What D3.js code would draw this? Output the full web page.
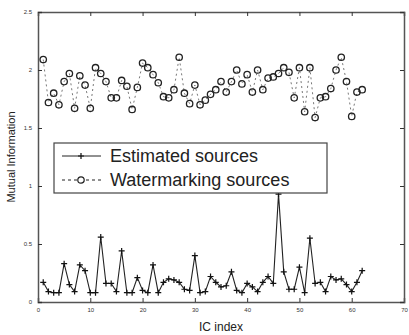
<!DOCTYPE html>
<html>
<head>
<meta charset="utf-8">
<script src="https://cdn.jsdelivr.net/npm/d3@7"></script>
<style>
body { margin: 0; background: #fff; }
svg { display: block; font-family: "Liberation Sans", Arial, sans-serif; }
</style>
</head>
<body>
<script>
var width = 409;
var height = 335;

// estimated sources (solid, +)
var estimated = [0.17, 0.09, 0.08, 0.08, 0.33, 0.15, 0.09, 0.32, 0.27, 0.08,
                 0.08, 0.56, 0.16, 0.16, 0.09, 0.44, 0.08, 0.08, 0.21, 0.10,
                 0.08, 0.32, 0.08, 0.17, 0.20, 0.19, 0.17, 0.11, 0.10, 0.40,
                 0.08, 0.09, 0.22, 0.17, 0.13, 0.14, 0.26, 0.10, 0.08, 0.16,
                 0.13, 0.09, 0.17, 0.22, 0.16, 0.93, 0.26, 0.11, 0.11, 0.30,
                 0.08, 0.55, 0.16, 0.17, 0.09, 0.22, 0.19, 0.20, 0.15, 0.09,
                 0.17, 0.27];
// watermarking sources (dashed, o)
var watermarking = [2.09, 1.72, 1.80, 1.70, 1.90, 1.97, 1.67, 1.95, 1.87, 1.67,
                    2.02, 1.97, 1.90, 1.76, 1.76, 1.91, 1.86, 1.66, 1.85, 2.06,
                    2.02, 1.96, 1.89, 1.77, 1.76, 1.83, 2.11, 1.80, 1.71, 1.87,
                    1.70, 1.74, 1.79, 1.83, 1.90, 1.81, 1.90, 2.00, 1.88, 1.96,
                    1.81, 2.00, 1.83, 1.93, 1.94, 1.97, 2.02, 1.98, 1.76, 2.02,
                    1.64, 2.02, 1.59, 1.76, 1.77, 1.84, 2.00, 2.11, 1.90, 1.60,
                    1.81, 1.83];
var xTicks = [0, 10, 20, 30, 40, 50, 60, 70];
var yTicks = [0, 0.5, 1, 1.5, 2, 2.5];
var legendLabels = ["Estimated sources", "Watermarking sources"];

var margin = {left: 38, right: 5, top: 12, bottom: 33};
var x = d3.scaleLinear().domain([0, 70]).range([margin.left, width - margin.right]);
var y = d3.scaleLinear().domain([0, 2.5]).range([height - margin.bottom, margin.top]);

var svg = d3.select("body")
            .append("svg")
            .attr("width", width)
            .attr("height", height);

var fmt = function(d) { return d; };
var tickLen = 4;

svg.append("g")
    .attr("transform", "translate(0," + y(0) + ")")
    .call(d3.axisBottom(x).tickValues(xTicks).tickSize(-tickLen).tickPadding(6).tickFormat(fmt));
svg.append("g")
    .attr("transform", "translate(0," + y(2.5) + ")")
    .call(d3.axisTop(x).tickValues(xTicks).tickSize(-tickLen).tickFormat(""));
svg.append("g")
    .attr("transform", "translate(" + x(0) + ",0)")
    .call(d3.axisLeft(y).tickValues(yTicks).tickSize(-tickLen).tickPadding(6).tickFormat(fmt));
svg.append("g")
    .attr("transform", "translate(" + x(70) + ",0)")
    .call(d3.axisRight(y).tickValues(yTicks).tickSize(-tickLen).tickFormat(""));

svg.selectAll(".domain").attr("stroke", "#555").attr("stroke-width", 1.5);
svg.selectAll(".tick line").attr("stroke", "#333");
svg.selectAll(".tick text").attr("font-size", 6).attr("fill", "#333");

var line = d3.line()
    .x(function(d, i) { return x(i + 1); })
    .y(function(d) { return y(d); });

svg.append("path")
    .datum(watermarking)
    .attr("d", line)
    .attr("fill", "none")
    .attr("stroke", "#555")
    .attr("stroke-width", 0.8)
    .attr("stroke-dasharray", "2,3");

svg.selectAll(".wm")
    .data(watermarking)
    .enter()
    .append("circle")
    .attr("class", "wm")
    .attr("cx", function(d, i) { return x(i + 1); })
    .attr("cy", function(d) { return y(d); })
    .attr("r", 3.2)
    .attr("fill", "none")
    .attr("stroke", "#222")
    .attr("stroke-width", 1.3);

svg.append("path")
    .datum(estimated)
    .attr("d", line)
    .attr("fill", "none")
    .attr("stroke", "#222")
    .attr("stroke-width", 1.1);

svg.selectAll(".est")
    .data(estimated)
    .enter()
    .append("path")
    .attr("class", "est")
    .attr("transform", function(d, i) { return "translate(" + x(i + 1) + "," + y(d) + ")"; })
    .attr("d", "M-3,0H3M0,-3V3")
    .attr("stroke", "#111")
    .attr("stroke-width", 1.2);

// legend
var lg = svg.append("g").attr("transform", "translate(54,143)");
lg.append("rect")
    .attr("width", 273)
    .attr("height", 50)
    .attr("fill", "#fff")
    .attr("stroke", "#444")
    .attr("stroke-width", 1.2);
var rows = lg.selectAll("g.legend")
    .data(legendLabels)
    .enter()
    .append("g")
    .attr("class", "legend")
    .attr("transform", function(d, i) { return "translate(0," + (13 + i * 24) + ")"; });
rows.append("line")
    .attr("x1", 8).attr("x2", 47)
    .attr("stroke", "#222")
    .attr("stroke-width", 1)
    .attr("stroke-dasharray", function(d, i) { return i == 1 ? "3,3" : null; });
rows.filter(function(d, i) { return i == 0; })
    .append("path")
    .attr("transform", "translate(27,0)")
    .attr("d", "M-3,0H3M0,-3V3")
    .attr("stroke", "#111")
    .attr("stroke-width", 1.2);
rows.filter(function(d, i) { return i == 1; })
    .append("circle")
    .attr("cx", 27)
    .attr("r", 3.2)
    .attr("fill", "#fff")
    .attr("stroke", "#222")
    .attr("stroke-width", 1.2);
rows.append("text")
    .attr("x", 56)
    .attr("dy", "0.35em")
    .attr("font-size", 18)
    .attr("fill", "#222")
    .text(function(d) { return d; });

// axis labels
svg.append("text")
    .attr("transform", "translate(15," + ((y(0) + y(2.5)) / 2) + ") rotate(-90)")
    .attr("text-anchor", "middle")
    .attr("font-size", 11)
    .attr("fill", "#222")
    .text("Mutual Information");
svg.append("text")
    .attr("x", (x(0) + x(70)) / 2)
    .attr("y", 331)
    .attr("text-anchor", "middle")
    .attr("font-size", 12)
    .attr("fill", "#222")
    .text("IC index");
</script>
</body>
</html>
